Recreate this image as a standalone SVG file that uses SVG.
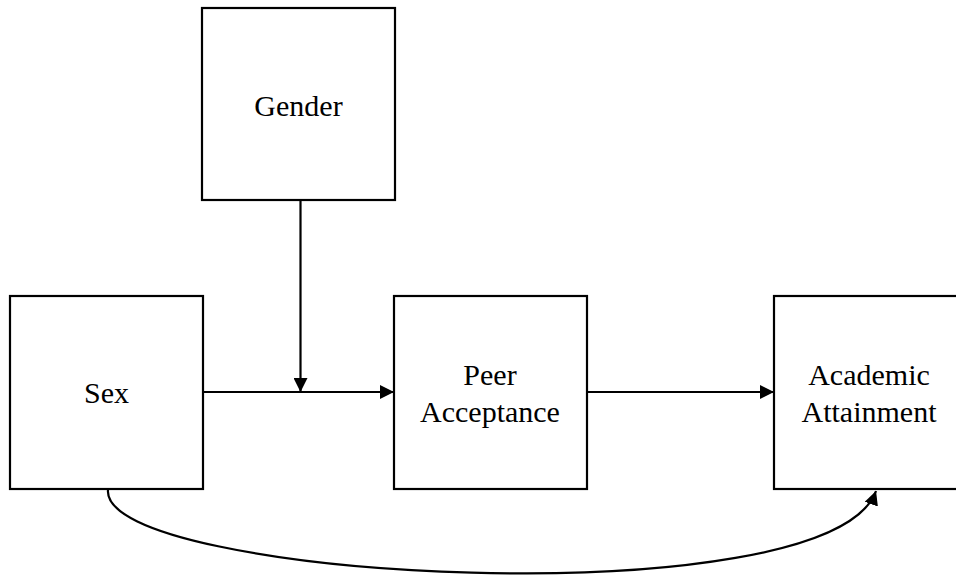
<svg xmlns="http://www.w3.org/2000/svg" width="956" height="577" viewBox="0 0 956 577">
<style>
.box{fill:#fff;stroke:#000;stroke-width:2.2}
.lbl{font-family:"Liberation Serif","Times New Roman",serif;font-size:30px;fill:#000;text-anchor:middle}
.edge{fill:none;stroke:#000;stroke-width:2.2}
</style>
<defs>
<marker id="arr" markerWidth="14" markerHeight="14" refX="14" refY="7" orient="auto" markerUnits="userSpaceOnUse" viewBox="0 0 14 14">
<path d="M0,0 L14,7 L0,14 Z" fill="#000"/>
</marker>
</defs>
<rect width="956" height="577" fill="#fff"/>
<g id="connectors">
<line class="edge" x1="300.5" y1="200" x2="300.5" y2="392" marker-end="url(#arr)"/>
<line class="edge" x1="203" y1="392" x2="394" y2="392" marker-end="url(#arr)"/>
<line class="edge" x1="587" y1="392" x2="774" y2="392" marker-end="url(#arr)"/>
<path class="edge" d="M108,490 C100,580 830,620 876,491" marker-end="url(#arr)"/>
</g>
<g id="gender">
<rect class="box" x="202" y="8" width="193" height="192"/>
<text class="lbl" x="298.5" y="116">Gender</text>
</g>
<g id="sex">
<rect class="box" x="10" y="296" width="193" height="193"/>
<text class="lbl" x="106.5" y="403">Sex</text>
</g>
<g id="peer">
<rect class="box" x="394" y="296" width="193" height="193"/>
<text class="lbl" x="490" y="385">Peer</text>
<text class="lbl" x="490" y="422">Acceptance</text>
</g>
<g id="academic">
<rect class="box" x="774" y="296" width="193" height="193"/>
<text class="lbl" x="869" y="385">Academic</text>
<text class="lbl" x="869" y="422">Attainment</text>
</g>
</svg>
